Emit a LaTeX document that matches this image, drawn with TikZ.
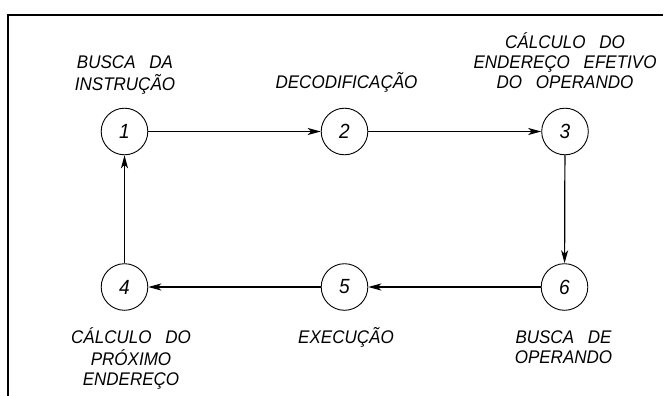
\documentclass[tikz,border=0pt]{standalone}
\usepackage{fontspec}
\setmainfont{Liberation Sans}
\newfontfamily\labelfont[FakeStretch=0.93]{Liberation Sans}
\usetikzlibrary{arrows.meta}
\newcommand{\gap}{\hspace{0.75em}}
\begin{document}
\begin{tikzpicture}[x=1pt,y=-1pt,
  stage/.style={circle,draw,line width=0.9pt,minimum size=46.6pt,inner sep=0pt,
    font=\labelfont\fontsize{20.5}{22}\selectfont\itshape},
  lbl/.style={anchor=base,inner sep=0pt,font=\labelfont\fontsize{18.3}{20}\selectfont\itshape},
  conn/.style={line width=1.2pt,-{Stealth[length=13pt,width=7pt,inset=3.5pt]}},
  frame/.style={line width=1.3pt}]
\useasboundingbox (0,0) rectangle (669,396);
\draw[frame] (663,15) -- (8,15) -- (8,397);

\node[stage] (c1) at (124.5,131.5) {1};
\node[stage] (c2) at (344.5,131.5) {2};
\node[stage] (c3) at (565,131.5) {3};
\node[stage] (c4) at (124.5,287) {4};
\node[stage] (c5) at (344.5,287) {5};
\node[stage] (c6) at (564.5,287) {6};

\draw[conn] (c1) -- (c2);
\draw[conn] (c2) -- (c3);
\draw[conn] (c3) -- (c6);
\draw[conn] (c6) -- (c5);
\draw[conn] (c5) -- (c4);
\draw[conn] (c4) -- (c1);

\node[lbl] (t1) at (125,68.5) {\begin{tabular}[t]{@{}c@{}}BUSCA\gap DA\\INSTRUÇÃO\end{tabular}};
\node[lbl] (t2) at (346.5,88.5) {DECODIFICAÇÃO};
\node[lbl] (t3) at (565,48.5) {\begin{tabular}[t]{@{}c@{}}CÁLCULO\gap DO\\ENDEREÇO\gap EFETIVO\\DO\gap OPERANDO\end{tabular}};
\node[lbl] (t4) at (131,343.5) {\begin{tabular}[t]{@{}c@{}}CÁLCULO\gap DO\\PRÓXIMO\\ENDEREÇO\end{tabular}};
\node[lbl] (t5) at (346,343.5) {EXECUÇÃO};
\node[lbl] (t6) at (563.5,343.5) {\begin{tabular}[t]{@{}c@{}}BUSCA\gap DE\\OPERANDO\end{tabular}};
\end{tikzpicture}
\end{document}
